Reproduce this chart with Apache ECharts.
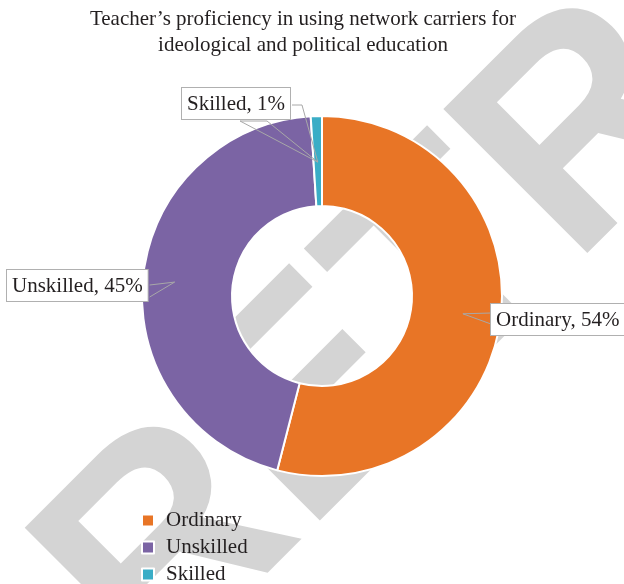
<!DOCTYPE html>
<html>
<head>
<meta charset="utf-8">
<script src="https://cdn.jsdelivr.net/npm/echarts@6/dist/echarts.min.js"></script>
<style>
  html, body { margin: 0; padding: 0; background: #fff; }
  #chart { width: 624px; height: 584px; }
</style>
</head>
<body>
<div id="chart"></div>
<script>
// data
var categories = ['Ordinary', 'Unskilled', 'Skilled'];
var shares = [54, 45, 1];
var colors = ['#e87526', '#7b64a4', '#3aadc6'];

var chart = echarts.init(document.getElementById('chart'));

var cx = 322, cy = 296;
var serif = '"Liberation Serif", "Times New Roman", serif';
// top-left corner of every callout box, and how deep its pointer reaches
var boxPos = [[491, 304], [7, 270], [182, 88]];
var tipR = [142, 148, 134];

var total = shares.reduce(function (a, b) { return a + b; }, 0);

// point inside the ring, on the middle angle of slice i
function tipPoint(i) {
    var before = 0;
    for (var k = 0; k < i; k++) before += shares[k];
    var mid = (90 - 360 * (before + shares[i] / 2) / total) * Math.PI / 180;
    return [cx + tipR[i] * Math.cos(mid), cy - tipR[i] * Math.sin(mid)];
}

var pieData = categories.map(function (name, i) {
    return { name: name, value: shares[i], itemStyle: { color: colors[i] } };
});
// same values again, only to carry the callouts above the ring
var labelData = categories.map(function (name, i) {
    return { name: name, value: shares[i] };
});

var option = {
    backgroundColor: '#fff',
    title: {
        text: 'Teacher\u2019s proficiency in using network carriers for\nideological and political education',
        left: 298,
        top: 1,
        textAlign: 'center',
        textStyle: {
            fontFamily: serif,
            fontWeight: 'normal',
            fontSize: 21,
            lineHeight: 26,
            color: '#231f20'
        }
    },
    legend: {
        orient: 'vertical',
        left: 136,
        top: 505,
        height: 120,
        icon: 'rect',
        itemWidth: 12,
        itemHeight: 12,
        itemGap: 6,
        data: categories,
        selectedMode: false,
        textStyle: {
            fontFamily: serif,
            fontSize: 21,
            color: '#231f20',
            padding: [0, 0, 0, 7]
        }
    },
    graphic: [{
        type: 'text',
        x: 97,
        y: 628,
        rotation: Math.PI / 4,
        z: -10,
        silent: true,
        style: {
            text: 'RETRACTED',
            font: 'bold 296px "Liberation Sans", Arial, sans-serif',
            fill: '#d4d4d4',
            textAlign: 'left',
            textVerticalAlign: 'middle'
        }
    }],
    series: [{
        type: 'pie',
        z: 2,
        center: [cx, cy],
        radius: [90, 180],
        startAngle: 90,
        clockwise: true,
        silent: true,
        data: pieData,
        itemStyle: {
            borderColor: '#fff',
            borderWidth: 2
        },
        label: { show: false },
        labelLine: { show: false }
    }, {
        type: 'pie',
        z: 5,
        center: [cx, cy],
        radius: [90, 180],
        startAngle: 90,
        clockwise: true,
        avoidLabelOverlap: false,
        silent: true,
        legendHoverLink: false,
        data: labelData,
        itemStyle: {
            color: 'rgba(0,0,0,0)',
            borderWidth: 0
        },
        label: {
            show: true,
            formatter: '{b}, {d}%',
            fontFamily: serif,
            fontSize: 21,
            lineHeight: 22,
            color: '#231f20',
            backgroundColor: '#fff',
            borderColor: '#b0b0b0',
            borderWidth: 1,
            padding: [5, 5, 4, 5]
        },
        labelLine: {
            show: true,
            lineStyle: { color: '#a8a8a8', width: 1 }
        },
        labelLayout: function (params) {
            var i = params.dataIndex;
            var w = params.labelRect.width, h = params.labelRect.height;
            var x = boxPos[i][0], y = boxPos[i][1];
            var tip = tipPoint(i);
            var pts;
            if (i === 0) {
                pts = [[x, y + 9], tip, [x, y + 20]];
            } else if (i === 1) {
                pts = [[x + w, y + 15], tip, [x + w, y + 27]];
            } else {
                pts = [[x + w, y + 17], [x + w + 10, y + 17], tip,
                       [x + 58, y + h], [x + 85, y + h], tip];
            }
            return {
                x: x,
                y: y,
                align: 'left',
                verticalAlign: 'top',
                labelLinePoints: pts
            };
        }
    }]
};

chart.setOption(option);
</script>
</body>
</html>
